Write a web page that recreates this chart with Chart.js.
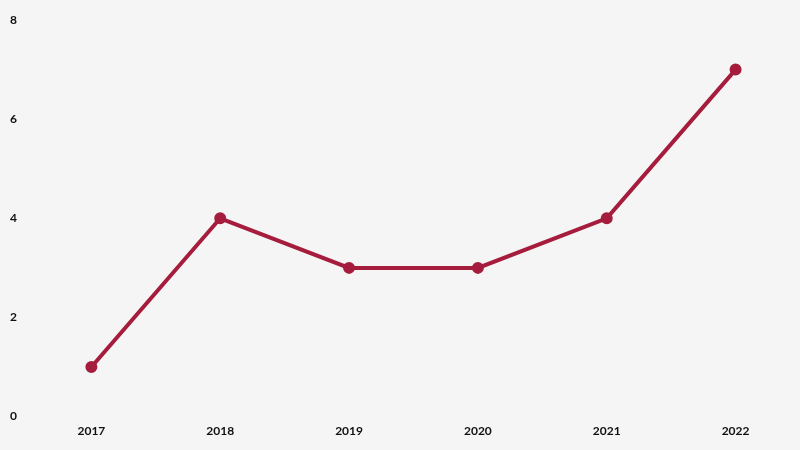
<!DOCTYPE html>
<html>
<head>
<meta charset="utf-8">
<script src="https://cdn.jsdelivr.net/npm/chart.js@4"></script>
<style>
    html, body { margin: 0; padding: 0; background: #f5f5f5; }
    #wrap { width: 800px; height: 450px; }
</style>
</head>
<body>
<div id="wrap"><canvas id="lineChart"></canvas></div>
<script>
// Data grafik
const years = ['2017', '2018', '2019', '2020', '2021', '2022'];
const values = [1, 4, 3, 3, 4, 7];
const yTicks = [0, 2, 4, 6, 8];

const lineColor = '#a51c3d';

const ctx = document.getElementById('lineChart').getContext('2d');
new Chart(ctx, {
    type: 'line',
    data: {
        labels: years,
        datasets: [{
            data: values,
            borderColor: lineColor,
            backgroundColor: lineColor,
            pointBackgroundColor: lineColor,
            pointBorderColor: lineColor,
            borderWidth: 4,
            pointRadius: 4,
            tension: 0,
            clip: false
        }]
    },
    options: {
        responsive: true,
        maintainAspectRatio: false,
        animation: false,
        layout: {
            autoPadding: false,
            padding: { top: 20, bottom: 5, left: 0, right: 0 }
        },
        plugins: {
            legend: { display: false },
            tooltip: { enabled: false }
        },
        scales: {
            x: {
                offset: true,
                grid: { display: false, drawTicks: false },
                border: { display: false },
                ticks: {
                    color: '#111',
                    padding: 7,
                    font: { family: 'Lato', size: 12, weight: 'bold' }
                }
            },
            y: {
                min: yTicks[0],
                max: yTicks[yTicks.length - 1],
                grid: { display: false, drawTicks: false },
                border: { display: false },
                afterBuildTicks: function(axis) {
                    axis.ticks = yTicks.map(v => ({ value: v }));
                },
                ticks: {
                    color: '#111',
                    padding: 10,
                    font: { family: 'Lato', size: 12, weight: 'bold' }
                }
            }
        }
    }
});
</script>
</body>
</html>
